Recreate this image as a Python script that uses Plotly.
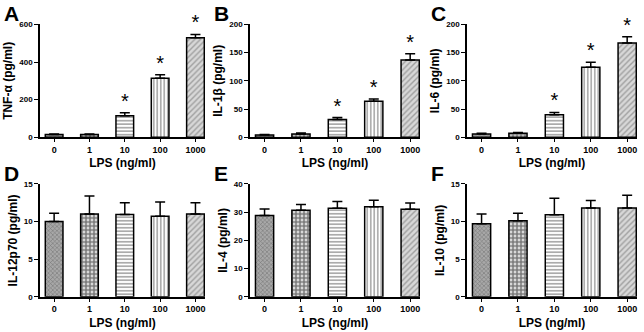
import plotly.graph_objects as go

categories = ["0", "1", "10", "100", "1000"]

tnf_mean = [15, 15, 115, 314, 529]
tnf_sd = [3, 3, 15, 18, 18]
il1b_mean = [4, 6, 31.5, 64, 137]
il1b_sd = [1, 1.5, 3.5, 4, 11]
il6_mean = [6, 7, 40, 124, 167]
il6_sd = [1, 1.5, 4, 9, 11]
il12_mean = [10.0, 11.0, 10.95, 10.7, 11.0]
il12_sd = [1.1, 2.4, 1.55, 1.9, 1.5]
il4_mean = [28.8, 30.7, 31.4, 31.9, 31.0]
il4_sd = [2.3, 2.0, 2.4, 2.3, 2.3]
il10_mean = [9.7, 10.1, 10.9, 11.8, 11.8]
il10_sd = [1.3, 1.0, 2.2, 1.0, 1.7]

significant_top = [False, False, True, True, True]
significant_none = [False] * 5

panels = [
    dict(letter="A", ytitle="TNF-α (pg/ml)", mean=tnf_mean, sd=tnf_sd, ymax=600, dtick=200, sig=significant_top),
    dict(letter="B", ytitle="IL-1β (pg/ml)", mean=il1b_mean, sd=il1b_sd, ymax=200, dtick=50, sig=significant_top),
    dict(letter="C", ytitle="IL-6 (pg/ml)", mean=il6_mean, sd=il6_sd, ymax=200, dtick=50, sig=significant_top),
    dict(letter="D", ytitle="IL-12p70 (pg/ml)", mean=il12_mean, sd=il12_sd, ymax=15, dtick=5, sig=significant_none),
    dict(letter="E", ytitle="IL-4 (pg/ml)", mean=il4_mean, sd=il4_sd, ymax=40, dtick=10, sig=significant_none),
    dict(letter="F", ytitle="IL-10 (pg/ml)", mean=il10_mean, sd=il10_sd, ymax=15, dtick=5, sig=significant_none),
]

W, H = 644, 332
FONT = "Liberation Sans, Arial, sans-serif"

# pixel layout: (axis left x, axis right x), (y of zero, y of top)
xpix = [(40, 205), (250, 420), (467, 637)]
ypix = [(137, 21), (301, 185)]

patterns = [
    dict(shape="x", fgcolor="#444444", bgcolor="#a8a8a8", size=3, solidity=0.35),
    dict(shape=".", fgcolor="#000000", bgcolor="#ffffff", size=4, solidity=0.75),
    dict(shape="-", fgcolor="#444444", bgcolor="#ffffff", size=3.5, solidity=0.45),
    dict(shape="|", fgcolor="#333333", bgcolor="#ffffff", size=3.5, solidity=0.4),
    dict(shape="/", fgcolor="#666666", bgcolor="#d8d8d8", size=4, solidity=0.35),
]

fig = go.Figure()
annotations = []

for i, p in enumerate(panels):
    r, c = divmod(i, 3)
    xa = "x" if i == 0 else f"x{i+1}"
    ya = "y" if i == 0 else f"y{i+1}"
    for k, cat in enumerate(categories):
        fig.add_trace(go.Bar(
            x=[cat], y=[p["mean"][k]],
            xaxis=xa, yaxis=ya,
            width=0.5,
            marker=dict(color=patterns[k]["bgcolor"], line=dict(color="black", width=1.5),
                        pattern=patterns[k]),
            error_y=dict(type="data", symmetric=False, array=[p["sd"][k]], arrayminus=[0],
                         color="black", thickness=1.5, width=5),
            showlegend=False,
        ))
    sx = [cat for cat, s in zip(categories, p["sig"]) if s]
    sy = [m + e for m, e, s in zip(p["mean"], p["sd"], p["sig"]) if s]
    if sx:
        fig.add_trace(go.Scatter(
            x=sx, y=sy, xaxis=xa, yaxis=ya, mode="text", text=["*"] * len(sx),
            textposition="top center", textfont=dict(family=FONT, size=20, color="black"),
            showlegend=False, cliponaxis=False,
        ))
    x0, x1 = xpix[c]
    y0, y1 = ypix[r]
    xdom = [x0 / W, x1 / W]
    ydom = [(H - y0) / H, (H - y1) / H]
    key_x = "xaxis" if i == 0 else f"xaxis{i+1}"
    key_y = "yaxis" if i == 0 else f"yaxis{i+1}"
    fig.layout[key_x] = dict(
        domain=xdom, anchor=ya, type="category", range=[-0.4, 4.27],
        showline=True, linecolor="black", linewidth=1.5,
        ticks="outside", ticklen=3, tickwidth=1.2, tickcolor="black",
        tickfont=dict(family=FONT, size=9, color="black", weight="bold"),
        title=dict(text="LPS (ng/ml)", font=dict(family=FONT, size=12, color="black", weight="bold"), standoff=5),
        showgrid=False, zeroline=False, fixedrange=True,
    )
    fig.layout[key_y] = dict(
        domain=ydom, anchor=xa, range=[0, p["ymax"]], dtick=p["dtick"], tick0=0,
        showline=True, linecolor="black", linewidth=1.5,
        ticks="outside", ticklen=4, tickwidth=1.2, tickcolor="black",
        tickfont=dict(family=FONT, size=8, color="black", weight="bold"),
        title=dict(text=p["ytitle"], font=dict(family=FONT, size=12, color="black", weight="bold"), standoff=4),
        showgrid=False, zeroline=False, fixedrange=True,
    )
    annotations.append(dict(
        text=p["letter"], x=(x0 - 38) / W, y=(H - (y1 - 11)) / H, xref="paper", yref="paper",
        xanchor="left", yanchor="middle", showarrow=False,
        font=dict(family=FONT, size=21, color="black", weight="bold"),
    ))

fig.update_layout(
    width=W, height=H, margin=dict(l=0, r=0, t=0, b=0),
    plot_bgcolor="white", paper_bgcolor="white",
    barmode="overlay", annotations=annotations,
)

fig.write_html("out.html", config={"displayModeBar": False},
               post_script="document.body.style.margin='0';document.body.style.padding='0';document.body.style.overflow='hidden';")
